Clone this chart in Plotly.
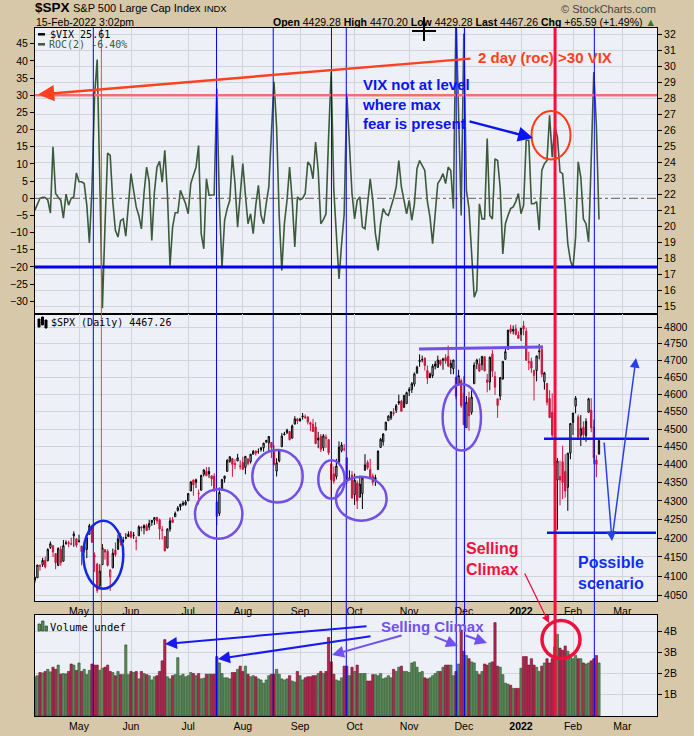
import math
import plotly.graph_objects as go

# ---------------- data (trading-day index 0 = 8-Apr-2021 ... 217 = 15-Feb-2022) ----------------
open_ = [4089,4096,4125,4130,4141,4140,4175,4180,4159,4128,
4170,4139,4186,4188,4185,4206,4198,4191,4179,4178,
4170,4210,4228,4151,4131,4075,4130,4169,4165,4098,
4122,4168,4170,4205,4191,4201,4210,4217,4207,4191,
4206,4229,4233,4233,4229,4242,4248,4255,4249,4220,
4204,4174,4224,4249,4257,4274,4284,4294,4290,4300,
4327,4357,4351,4321,4329,4373,4381,4381,4369,4368,
4297,4266,4331,4361,4381,4409,4417,4403,4410,4396,
4406,4392,4416,4408,4429,4438,4436,4442,4447,4464,
4461,4462,4440,4382,4410,4450,4484,4490,4493,4474,
4514,4529,4529,4535,4532,4535,4518,4514,4506,4474,
4479,4447,4477,4470,4402,4374,4367,4406,4439,4443,
4419,4363,4371,4317,4349,4310,4320,4384,4406,4386,
4368,4358,4386,4448,4464,4497,4524,4532,4547,4554,
4579,4580,4562,4573,4610,4614,4630,4662,4700,4702,
4707,4670,4660,4655,4689,4679,4701,4700,4708,4712,
4679,4675,4650,4628,4640,4603,4504,4589,4548,4631,
4690,4690,4687,4711,4642,4636,4719,4652,4587,4595,
4645,4703,4733,4795,4788,4795,4776,4778,4804,4788,
4693,4697,4655,4670,4728,4733,4637,4632,4588,4548,
4471,4357,4367,4408,4381,4337,4432,4519,4566,4535,
4482,4505,4481,4548,4554,4506,4413,4429]

high = [4098,4129,4131,4148,4151,4173,4191,4180,4160,4175,
4179,4195,4194,4193,4201,4218,4199,4209,4179,4187,
4202,4238,4236,4162,4135,4131,4184,4171,4170,4118,
4172,4188,4209,4214,4203,4213,4218,4218,4216,4204,
4234,4232,4237,4238,4249,4248,4255,4257,4252,4232,
4204,4226,4255,4256,4271,4286,4292,4300,4302,4321,
4355,4359,4361,4331,4372,4387,4393,4393,4369,4376,
4302,4337,4359,4369,4415,4422,4417,4415,4430,4412,
4422,4424,4416,4429,4441,4439,4445,4449,4461,4468,
4480,4462,4454,4418,4444,4489,4492,4501,4495,4513,
4537,4532,4532,4546,4542,4535,4521,4529,4520,4492,
4486,4486,4485,4471,4402,4395,4416,4465,4463,4457,
4419,4384,4382,4375,4356,4369,4365,4429,4412,4416,
4375,4372,4439,4475,4488,4520,4540,4551,4560,4572,
4599,4584,4598,4608,4621,4636,4664,4684,4718,4714,
4708,4685,4664,4689,4698,4714,4701,4708,4718,4744,
4702,4702,4650,4672,4646,4653,4595,4608,4612,4694,
4705,4706,4713,4711,4660,4712,4731,4667,4587,4651,
4697,4740,4791,4807,4805,4808,4787,4797,4819,4798,
4726,4708,4673,4714,4749,4745,4666,4632,4612,4603,
4495,4418,4411,4453,4429,4432,4516,4546,4595,4542,
4540,4522,4531,4590,4589,4527,4426,4470]

low = [4082,4095,4114,4124,4120,4139,4171,4150,4118,4126,
4127,4138,4182,4176,4181,4177,4175,4188,4128,4162,
4147,4210,4188,4111,4057,4069,4130,4143,4125,4062,
4120,4151,4170,4180,4187,4197,4203,4199,4198,4168,
4206,4218,4210,4219,4221,4233,4235,4238,4196,4196,
4165,4173,4217,4240,4257,4271,4274,4286,4287,4300,
4327,4314,4335,4290,4329,4367,4369,4363,4341,4325,
4234,4259,4328,4350,4381,4405,4366,4387,4410,4386,
4385,4373,4398,4403,4428,4425,4430,4436,4436,4460,
4437,4418,4397,4367,4406,4450,4482,4486,4468,4474,
4514,4514,4521,4527,4530,4513,4494,4493,4457,4446,
4435,4438,4447,4427,4305,4347,4359,4406,4434,4437,
4346,4357,4306,4289,4278,4310,4278,4384,4386,4361,
4342,4341,4386,4448,4453,4497,4524,4526,4538,4546,
4569,4551,4562,4573,4595,4604,4623,4662,4681,4694,
4670,4630,4648,4648,4673,4679,4684,4672,4690,4680,
4659,4659,4586,4626,4561,4511,4504,4495,4541,4631,
4674,4667,4671,4667,4606,4612,4651,4598,4532,4583,
4643,4703,4733,4780,4778,4775,4765,4758,4775,4700,
4671,4663,4582,4638,4703,4651,4614,4568,4531,4475,
4396,4222,4288,4305,4309,4273,4415,4483,4545,4470,
4452,4472,4464,4548,4491,4402,4365,4429]

close = [4097,4129,4127,4141,4124,4170,4185,4163,4135,4173,
4135,4180,4187,4186,4184,4211,4181,4192,4164,4168,
4201,4233,4189,4153,4063,4113,4174,4163,4128,4116,
4160,4156,4198,4188,4195,4200,4204,4202,4208,4192,
4230,4227,4227,4220,4239,4247,4255,4246,4224,4222,
4166,4224,4246,4242,4266,4281,4291,4291,4297,4320,
4352,4344,4358,4320,4370,4385,4369,4374,4360,4327,
4258,4323,4359,4368,4412,4422,4401,4400,4419,4395,
4387,4423,4403,4429,4437,4432,4436,4447,4460,4468,
4479,4448,4400,4405,4442,4480,4486,4497,4470,4509,
4529,4523,4524,4537,4535,4520,4514,4493,4459,4469,
4443,4481,4473,4433,4358,4354,4396,4449,4455,4443,
4353,4360,4308,4357,4300,4346,4363,4399,4391,4361,
4351,4364,4438,4471,4486,4520,4537,4549,4545,4567,
4575,4551,4597,4605,4614,4631,4660,4680,4697,4702,
4685,4647,4649,4683,4683,4701,4689,4704,4698,4683,
4691,4701,4595,4655,4567,4513,4577,4538,4592,4686,
4701,4668,4712,4669,4635,4709,4668,4621,4568,4649,
4697,4726,4791,4786,4793,4778,4766,4797,4794,4700,
4696,4677,4670,4713,4726,4659,4663,4577,4533,4483,
4398,4410,4357,4350,4327,4432,4516,4546,4589,4477,
4501,4484,4522,4587,4504,4419,4401,4467]

volume_b = [1.85,1.9,2.05,2.03,2.1,2.2,2.08,2.3,2.2,2.4,
1.97,2.0,1.98,2.1,2.45,2.4,2.15,2.5,2.1,2.2,
1.95,2.15,2.45,2.4,2.4,2.15,2.25,2.3,2.4,2.1,
2.05,1.9,2.1,1.95,1.95,3.35,1.95,2.1,2.05,2.1,
1.75,2.1,2.0,1.95,1.9,1.7,1.85,1.9,2.1,2.6,
3.6,1.85,1.75,1.9,1.95,2.75,1.9,1.97,1.85,1.9,
2.05,2.0,1.9,2.0,1.75,1.78,1.97,1.97,1.97,1.97,
2.8,2.5,2.0,1.8,1.8,1.75,2.05,2.05,2.2,2.35,
2.1,2.35,1.97,1.85,1.9,1.85,1.75,1.7,1.55,1.7,
1.9,1.97,1.97,2.2,1.97,1.75,1.7,1.75,1.9,1.65,
1.6,2.1,1.9,1.7,1.8,1.85,1.85,1.9,1.9,2.0,
2.1,2.0,2.1,3.7,2.55,1.97,1.7,1.65,1.8,2.35,
2.35,1.9,2.3,2.1,2.4,2.0,2.0,2.0,1.65,1.65,
1.95,1.95,1.9,2.0,1.75,1.8,1.9,1.8,2.2,2.1,
2.3,2.35,2.1,2.1,2.05,2.5,2.55,2.3,2.05,2.1,
1.8,1.75,1.8,1.9,2.0,2.1,2.1,2.3,2.4,2.4,
2.4,1.9,2.1,2.45,4.05,3.05,2.85,2.7,2.55,2.5,
2.1,1.95,2.1,2.45,2.4,2.5,2.55,4.4,2.35,2.3,
1.95,1.55,1.5,1.45,1.3,1.3,1.3,2.25,2.8,2.8,
2.4,2.7,2.4,2.3,2.1,2.35,2.5,2.7,2.5,2.7,
3.25,3.85,3.2,3.1,3.3,3.05,2.9,2.7,2.85,2.7,
2.7,2.5,2.45,2.5,2.6,2.7,2.85,2.5]

roc2 = [-3.5,-1.5,0,0.3,0.2,-0.5,-4.3,15,1.4,0.3,
-0.6,-5.8,1.2,-2,0,0.4,7.4,4.8,4.8,4.3,
-2,-13,3,30,40.4,5,-32,-8,13.2,12.5,
-1,-9.3,-11.3,-6.5,-6,-11,-1,7.2,2.3,-2.5,
-5,-8.9,1.4,9.1,4.8,-12.3,1.8,9.1,10.8,4.7,
14,1.4,-19.6,-8.4,-4.2,-4.2,2.3,0.4,-1.6,-4.5,
4.3,6.7,9,15.4,-10.3,-14.7,5.7,0.9,0.9,1,
32,-1.6,-20,-6.4,-3,-0.6,12.5,4.3,-8.4,2.3,
10.1,1,-7.4,-4.5,-10.3,-2,3.8,-5,-7.4,-1.6,
3.3,18.8,33.9,20.8,-5,-21,-7.4,-0.6,9.1,-0.6,
-14.2,0.4,-0.4,0,1.4,10.6,9.6,5.7,16.4,8.1,
-7.4,-6.2,-4.5,17.9,36.8,2.3,-12,-23.5,-13.3,-4.5,
30.5,15,1.4,-6,-0.6,0.4,-8.4,-8.9,-0.6,5.7,
-0.6,-10.3,-15.2,-7.4,-3,-4.5,-5,-2.5,0,3.3,
11,3.3,-1,-4.5,-0.6,-6.4,-1.6,8.6,11,9.5,
8.1,-1,-5.5,-13.2,-5.5,4.3,5.5,7.2,4.3,9.1,
8.1,-3,54,22,-5,48,2.3,-3,-17.6,-28.8,
-26.8,-1.6,-6,-6,17.4,-5,-6,11.5,11,3,
-16.2,-7.4,-5,-3,-2.5,-1,1.4,-4.5,-2,16.9,
16.9,-1.6,-1.6,-1,-9.3,8.1,10.1,11,24.2,12,
20.8,17.9,7.7,7.2,-2.5,-13.2,-18.1,-20.2,-11.3,10.6,
6.2,-6,-7.4,-12.7,11,36.8,20.8,-6.2]

month_idx = [17, 37, 59, 80, 102, 123, 144, 165, 187, 207, 226]
month_lbl = ["May", "Jun", "Jul", "Aug", "Sep", "Oct", "Nov", "Dec", "<b>2022</b>", "Feb", "Mar"]
roc_ticks = list(range(-30, 50, 5))
vix_ticks = list(range(15, 33))
price_ticks = list(range(4050, 4801, 50))
vol_ticks = [1, 2, 3, 4]
vol_lbl = ["1B", "2B", "3B", "4B"]

# annotation positions (trading-day index) of the vertical marker lines
blue_lines = [22.5, 69.9, 91.7, 114.1, 119.8, 162.1, 165.3, 215.2]
orange_line = 25.6
red_line = 200.1

# ---------------- layout helpers ----------------
W, H = 694, 736
def fx(p): return p / W
def fy(p): return 1 - p / H

FONT = "Liberation Sans, Arial, sans-serif"
MONO = "DejaVu Sans Mono, monospace"
PAPER = "#d8c8aa"
PLOT = "#eef0f8"
GRID = "#d3d3dc"
RED = "#d0143c"
n = len(close)
idx = list(range(n))
xdom = [fx(35), fx(657)]
xr = [(35 - 34.8) / 2.6, (657 - 34.8) / 2.6]

fig = go.Figure()

# ROC line
fig.add_trace(go.Scatter(x=idx, y=roc2, mode="lines", line=dict(color="#3b5a3b", width=1.6),
                         xaxis="x", yaxis="y", hoverinfo="skip", showlegend=False))
# carrier for the VIX (right) axis
fig.add_trace(go.Scatter(x=[None], y=[None], xaxis="x", yaxis="y2", showlegend=False, hoverinfo="skip"))

up_ids = [i for i in idx if i < n - 1 and (i == 0 or close[i] >= close[i - 1])]
dn_ids = [i for i in idx if i > 0 and close[i] < close[i - 1]]
last_ids = [n - 1]

def candle(ids, color, hollow, solid):
    return go.Candlestick(
        x=ids, open=[open_[i] for i in ids], high=[high[i] for i in ids],
        low=[low[i] for i in ids], close=[close[i] for i in ids],
        increasing=dict(line=dict(color=color, width=1), fillcolor=hollow),
        decreasing=dict(line=dict(color=color, width=1), fillcolor=solid),
        whiskerwidth=0, xaxis="x2", yaxis="y3", showlegend=False, hoverinfo="skip")

fig.add_trace(candle(up_ids, "black", PLOT, "black"))
fig.add_trace(candle(dn_ids, RED, PLOT, RED))
fig.add_trace(candle(last_ids, "black", "#ffff40", "#ffff40"))

vfill = ["#5b8a5b" if (i == 0 or close[i] >= close[i - 1]) else "#b3284f" for i in idx]
vline = ["#2c552c" if (i == 0 or close[i] >= close[i - 1]) else "#6e0c2a" for i in idx]
fig.add_trace(go.Bar(x=idx, y=volume_b, marker=dict(color=vfill, line=dict(color=vline, width=0.6)),
                     xaxis="x3", yaxis="y4", showlegend=False, hoverinfo="skip"))

tickfont = dict(family=FONT, size=10.5, color="black")
xcommon = dict(domain=xdom, range=xr, tickvals=month_idx, ticktext=month_lbl, showgrid=True,
               gridcolor=GRID, gridwidth=1, showline=True, linecolor="black", linewidth=1, mirror=True,
               zeroline=False, ticks="", tickfont=tickfont)
ycommon = dict(showline=True, linecolor="black", linewidth=1, mirror=True, zeroline=False,
               ticks="outside", ticklen=4, tickcolor="black", tickfont=tickfont)

fig.update_layout(
    width=W, height=H, margin=dict(l=0, r=0, t=0, b=0),
    paper_bgcolor=PAPER, plot_bgcolor=PLOT, bargap=0.12, showlegend=False,
    xaxis=dict(xcommon, anchor="y", showticklabels=False),
    xaxis2=dict(xcommon, anchor="y3", rangeslider=dict(visible=False)),
    xaxis3=dict(xcommon, anchor="y4"),
    yaxis=dict(ycommon, domain=[fy(314), fy(28)], range=[-33.7, 49.6], tickvals=roc_ticks,
               showgrid=False, side="left", anchor="x"),
    yaxis2=dict(ycommon, overlaying="y", side="right", range=[14.5, 32.38], tickvals=vix_ticks,
                showgrid=True, gridcolor=GRID, anchor="x"),
    yaxis3=dict(ycommon, domain=[fy(601), fy(314)], type="log",
                range=[math.log10(4036), math.log10(4840)], tickvals=price_ticks,
                ticktext=[str(v) for v in price_ticks], side="right", showgrid=True,
                gridcolor=GRID, anchor="x2"),
    yaxis4=dict(ycommon, domain=[fy(716), fy(615)], range=[0, 4.76], tickvals=vol_ticks,
                ticktext=vol_lbl, side="right", showgrid=True, gridcolor=GRID, anchor="x3"),
)

shapes = []
def pline(x0, y0, x1, y1, color, width, dash="solid"):
    shapes.append(dict(type="line", xref="paper", yref="paper", x0=fx(x0), y0=fy(y0), x1=fx(x1), y1=fy(y1),
                       line=dict(color=color, width=width, dash=dash)))
def ellipse(cx, cy, rx, ry, color, width):
    shapes.append(dict(type="circle", xref="paper", yref="paper", x0=fx(cx - rx), x1=fx(cx + rx),
                       y0=fy(cy + ry), y1=fy(cy - ry), line=dict(color=color, width=width)))

# horizontal reference lines in ROC panel
for val, col, wd, dash in [(30, "#ec7272", 2.5, "solid"), (-20, "#0000ee", 3, "solid"), (0, "#6b5a48", 1, "dashdot")]:
    shapes.append(dict(type="line", xref="paper", yref="y", x0=xdom[0], x1=xdom[1], y0=val, y1=val,
                       line=dict(color=col, width=wd, dash=dash)))
# vertical marker lines through all panels
for v in blue_lines:
    shapes.append(dict(type="line", xref="x", yref="paper", x0=v, x1=v, y0=fy(716), y1=fy(28),
                       line=dict(color="#0000ff", width=1)))
shapes.append(dict(type="line", xref="x", yref="paper", x0=orange_line, x1=orange_line, y0=fy(716), y1=fy(28),
                   line=dict(color="#ff4a10", width=1)))
shapes.append(dict(type="line", xref="x", yref="paper", x0=red_line, x1=red_line, y0=fy(716), y1=fy(28),
                   line=dict(color="#f5103c", width=3)))

# price panel lines
pline(419, 349, 543, 347, "#7250e6", 3)
pline(544, 438.7, 649, 438.7, "#0a14ee", 2.5)
pline(547, 532.7, 656, 532.7, "#0a14ee", 2.5)

# ellipses
ellipse(103.3, 554.7, 20, 34, "#1428e0", 2.5)
for cx, cy, rx, ry in [(218.7, 514, 23.7, 24.7), (277.5, 476.3, 25.2, 26.3), (331.5, 479.5, 13.2, 19.2),
                       (361.3, 498.7, 25.3, 22), (461.8, 417.3, 19.2, 33.3)]:
    ellipse(cx, cy, rx, ry, "#7250e6", 2.5)
ellipse(551, 135.3, 19.5, 24.3, "#ff3a10", 2)
ellipse(561, 639.5, 19, 19, "#f0103c", 3.5)

# cursor cross
pline(424, 17, 424, 41, "black", 2)
pline(412, 31, 436, 31, "black", 2)
# legend keys
pline(38, 34.3, 45, 34.3, "black", 2.5)
pline(38, 44.3, 45, 44.3, "#3b5a3b", 2.5)
# small legend icons
for x0, y0, y1, c in [(38, 319, 327, "black"), (41.5, 317, 325, "black"), (45, 320, 328, "black")]:
    shapes.append(dict(type="rect", xref="paper", yref="paper", x0=fx(x0), x1=fx(x0 + 2), y0=fy(y1), y1=fy(y0),
                       line=dict(color=c, width=1), fillcolor=c))
for x0, y0 in [(38, 624), (41.5, 621), (45, 626)]:
    shapes.append(dict(type="rect", xref="paper", yref="paper", x0=fx(x0), x1=fx(x0 + 2.5), y0=fy(631), y1=fy(y0),
                       line=dict(color="#2c552c", width=0.8), fillcolor="#5b8a5b"))

fig.update_layout(shapes=shapes)

anns = []
def text(t, x, y, size, color="black", family=FONT, xanchor="left", yanchor="middle"):
    anns.append(dict(text=t, x=fx(x), y=fy(y), xref="paper", yref="paper", showarrow=False,
                     xanchor=xanchor, yanchor=yanchor, align="left", borderpad=0,
                     font=dict(family=family, size=size, color=color)))
def arrow(hx, hy, tx, ty, color, width, size=1.2):
    anns.append(dict(text="", x=fx(hx), y=fy(hy), xref="paper", yref="paper", showarrow=True,
                     ax=tx - hx, ay=ty - hy, axref="pixel", ayref="pixel", arrowhead=2,
                     arrowsize=size, arrowwidth=width, arrowcolor=color, standoff=0, startstandoff=0))

# header
text("<b>$SPX</b>", 34, 7.5, 13.5)
text("S&P 500 Large Cap Index", 72, 7.8, 11)
text("INDX", 202.5, 8, 9.5)
text("© StockCharts.com", 657, 8.5, 11, "#444444", xanchor="right")
text("15-Feb-2022 3:02pm", 35, 21.7, 10.5)
text("<b>Open</b> 4429.28 <b>High</b> 4470.20 <b>Low</b> 4429.28 <b>Last</b> 4467.26 "
     "<b>Chg</b> +65.59 (+1.49%) <span style='color:#2a7a2a'>▲</span>", 657, 21.7, 10.5, xanchor="right")
# panel legends
text("$VIX 25.61", 49, 34.3, 10, family=MONO)
text("ROC(2) -6.40%", 48, 44.3, 10, "#3b5a3b", family=MONO)
text("$SPX (Daily) 4467.26", 50, 322, 10, family=MONO)
text("Volume undef", 49, 627, 10.5, family=MONO)
# commentary
text("<b>2 day (roc) >30 VIX</b>", 477, 57, 15, "#ff4020")
text("<b>VIX not at level<br>where max<br>fear is present</b>", 361, 74.5, 15, "#0a14f0", yanchor="top")
text("<b>Selling<br>Climax</b>", 465, 539, 16, "#f0103c", yanchor="top")
text("<b>Possible<br>scenario</b>", 577, 553, 16, "#1030f0", yanchor="top")
text("<b>Selling Climax</b>", 380, 626, 15, "#7050f0")

arrow(38, 94.5, 472, 58.5, "#ff4020", 2.5, 1.3)
arrow(533, 138, 468, 121, "#0a14f0", 2.5, 1.2)
arrow(549, 623, 524, 572, "#f0103c", 1.3, 1.2)
arrow(612, 541, 604, 441, "#2840e8", 1.5, 1.3)
arrow(636, 358, 612, 540, "#2840e8", 1.5, 1.3)
arrow(165, 644, 368, 626, "#1818f0", 2, 1.2)
arrow(218, 659, 372, 636, "#1818f0", 2, 1.2)
arrow(332, 655, 403, 635, "#7050f0", 2, 1.2)
arrow(458, 646, 433, 636, "#7050f0", 2, 1.2)
arrow(487, 643, 464, 635, "#7050f0", 2, 1.2)

fig.update_layout(annotations=anns)
fig.write_html("out.html")
